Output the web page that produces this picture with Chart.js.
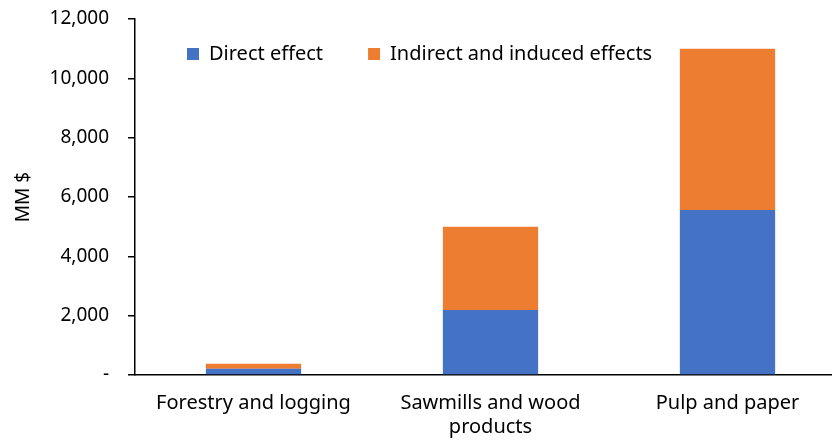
<!DOCTYPE html>
<html>
<head>
<meta charset="utf-8">
<script src="https://cdn.jsdelivr.net/npm/chart.js@4"></script>
<style>
  html, body { margin: 0; padding: 0; background: #fff; }
  #wrap { width: 832px; height: 440px; overflow: hidden; }
</style>
</head>
<body>
<div id="wrap"><canvas id="econChart" width="846" height="440"></canvas></div>
<script>
// economic contribution by sector, MM $
const categories = ["Forestry and logging", ["Sawmills and wood", "products"], "Pulp and paper"];
const directEffect = [210, 2190, 5560];
const indirectEffects = [170, 2810, 5440];
const yTicks = [0, 2000, 4000, 6000, 8000, 10000, 12000];

const font = { family: "'Noto Sans', sans-serif", size: 19 };
const bigFont = { family: "'Noto Sans', sans-serif", size: 20 };
const legendGap = 45;

// legend takes no room in the layout and sits inside the plot, near the top
const legendSpot = {
    id: 'legendSpot',
    beforeLayout(chart) {
        const lg = chart.legend;
        if (lg && !lg._flat) {
            const fit = lg.fit.bind(lg);
            lg.fit = function () { fit(); this.height = 0; };
            lg._flat = true;
        }
    },
    afterLayout(chart) {
        const lg = chart.legend;
        lg.left = 187 - legendGap;
        lg.right = 840;
        lg.width = lg.right - lg.left;
        lg.top = 44 - legendGap;
        lg.bottom = lg.top + 120;
        lg.height = 120;
    }
};

window.onload = function () {
    const ctx = document.getElementById('econChart').getContext('2d');
    const econChart = new Chart(ctx, {
        type: 'bar',
        data: {
            labels: categories,
            datasets: [{
                label: "Direct effect",
                data: directEffect,
                backgroundColor: '#4472C4',
                barPercentage: 0.402,
                categoryPercentage: 1
            }, {
                label: "Indirect and induced effects",
                data: indirectEffects,
                backgroundColor: '#ED7D31',
                barPercentage: 0.402,
                categoryPercentage: 1
            }]
        },
        options: {
            responsive: false,
            animation: false,
            layout: { padding: { top: 19, right: 0, bottom: 0, left: 0 } },
            plugins: {
                legend: {
                    position: 'top',
                    align: 'start',
                    labels: {
                        boxWidth: 12,
                        boxHeight: 12,
                        padding: legendGap,
                        color: '#000',
                        font: bigFont
                    }
                },
                tooltip: { enabled: false }
            },
            scales: {
                x: {
                    stacked: true,
                    grid: { display: false, drawTicks: false },
                    border: { display: true, color: '#000', width: 1.5 },
                    ticks: { color: '#000', font: Object.assign({ lineHeight: 1.2 }, bigFont), padding: 16, maxRotation: 0 },
                    afterFit(scale) { scale.height = 65; }
                },
                y: {
                    stacked: true,
                    min: 0,
                    max: 12000,
                    afterBuildTicks(scale) { scale.ticks = yTicks.map(v => ({ value: v })); },
                    grid: { drawOnChartArea: false, drawTicks: true, tickLength: 7, color: '#000', lineWidth: 1.5 },
                    border: { display: true, color: '#000', width: 1.5 },
                    ticks: {
                        color: '#000',
                        font: font,
                        padding: 19,
                        callback: v => v === 0 ? '-' : v.toLocaleString('en-US')
                    },
                    title: { display: true, text: 'MM $', color: '#000', font: font, padding: { top: 12, bottom: 0 } },
                    afterFit(scale) {
                        scale.width = 135;
                        scale.paddingTop = 0;
                        scale.paddingBottom = 0;
                    }
                }
            }
        },
        plugins: [legendSpot]
    });
};
</script>
</body>
</html>
